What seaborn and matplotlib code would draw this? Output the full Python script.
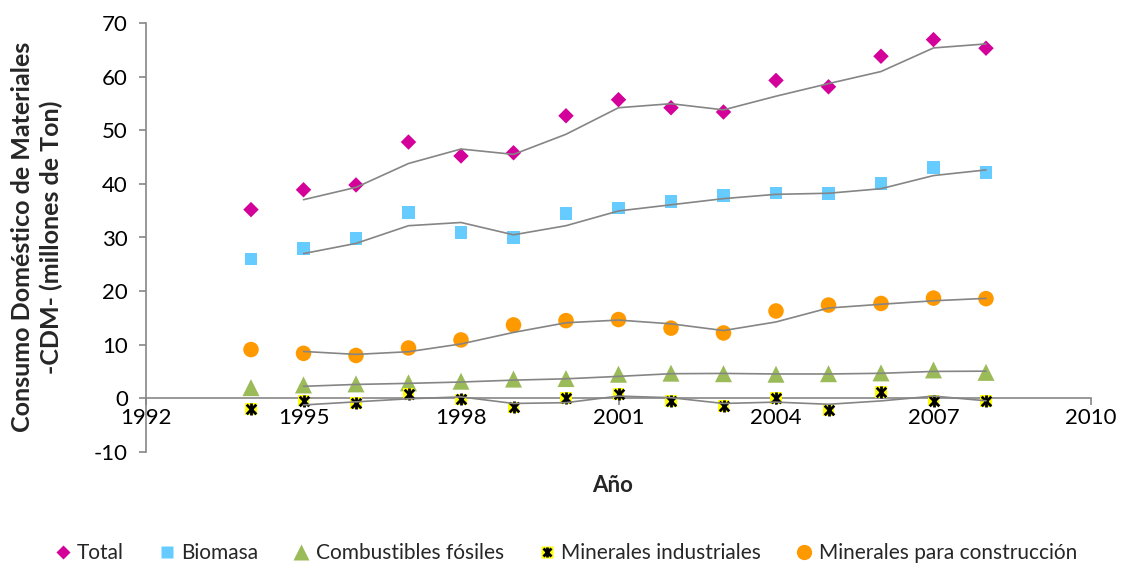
import numpy as np
import pandas as pd
import seaborn as sns
import matplotlib
matplotlib.use("Agg")
import matplotlib.pyplot as plt
from matplotlib.lines import Line2D
from matplotlib.legend_handler import HandlerTuple

# Consumo Doméstico de Materiales por componente (millones de toneladas)
years = list(range(1994, 2009))
total = [35.2, 38.9, 39.8, 47.8, 45.2, 45.8, 52.7, 55.7, 54.2, 53.4, 59.3, 58.1, 63.8, 66.9, 65.3]
biomasa = [26.0, 28.0, 29.8, 34.6, 31.0, 30.0, 34.4, 35.5, 36.7, 37.8, 38.3, 38.2, 40.0, 43.1, 42.1]
combustibles = [2.0, 2.5, 2.7, 2.9, 3.2, 3.6, 3.7, 4.5, 4.7, 4.6, 4.5, 4.6, 4.75, 5.3, 4.85]
industriales = [-2.05, -0.4, -0.9, 0.75, -0.2, -1.7, 0.1, 0.75, -0.5, -1.4, 0.0, -2.2, 1.25, -0.4, -0.5]
construccion = [9.1, 8.4, 8.0, 9.4, 10.9, 13.7, 14.5, 14.7, 13.1, 12.2, 16.3, 17.4, 17.7, 18.7, 18.6]

series_names = ["Total", "Biomasa", "Combustibles fósiles",
                "Minerales industriales", "Minerales para construcción"]
x_ticks = [1992, 1995, 1998, 2001, 2004, 2007, 2010]
y_ticks = [-10, 0, 10, 20, 30, 40, 50, 60, 70]

df = pd.DataFrame({"Año": years, "Total": total, "Biomasa": biomasa,
                   "Combustibles fósiles": combustibles,
                   "Minerales industriales": industriales,
                   "Minerales para construcción": construccion})

sns.set_theme(style="white")
plt.rcParams["font.family"] = ["Lato", "DejaVu Sans"]
plt.rcParams["axes.unicode_minus"] = False

fig = plt.figure(figsize=(11.23, 5.65), dpi=100)
ax = fig.add_axes([146 / 1123, 1 - 452 / 565, (1091 - 146) / 1123, (452 - 23) / 565])

axis_gray = "#868686"
trend_gray = "#858585"

styles = {
    "Total": dict(marker="D", s=62, color="#D4009A"),
    "Biomasa": dict(marker="s", s=86, color="#66CCFF"),
    "Combustibles fósiles": dict(marker="^", s=150, color="#9BBB59"),
    "Minerales para construcción": dict(marker="o", s=125, color="#FF9900"),
}

for name, st in styles.items():
    sns.scatterplot(data=df, x="Año", y=name, marker=st["marker"], s=st["s"],
                    color=st["color"], edgecolor="none", linewidth=0,
                    ax=ax, zorder=3, legend=False)

# Minerales industriales: yellow square with a black star on top
sns.scatterplot(data=df, x="Año", y="Minerales industriales", marker="s", s=72,
                color="#FFFF00", edgecolor="none", linewidth=0, ax=ax, zorder=3, legend=False)
sns.scatterplot(data=df, x="Año", y="Minerales industriales", marker="x", s=48,
                color="black", linewidth=2.0, ax=ax, zorder=4, legend=False)
sns.scatterplot(data=df, x="Año", y="Minerales industriales", marker="|", s=70,
                color="black", linewidth=2.0, ax=ax, zorder=4, legend=False)

# Two-period moving average trendlines
for name in series_names:
    ma = df[["Año", name]].copy()
    ma[name] = ma[name].rolling(2).mean()
    ma = ma.dropna()
    sns.lineplot(data=ma, x="Año", y=name, color=trend_gray, linewidth=1.2,
                 ax=ax, zorder=5, legend=False)

ax.set_xlim(1992, 2010)
ax.set_ylim(-10, 70)
ax.set_xticks(x_ticks)
ax.set_yticks(y_ticks)
ax.set_xlabel("")
ax.set_ylabel("")

for side in ["top", "right"]:
    ax.spines[side].set_visible(False)
ax.spines["bottom"].set_position(("data", 0))
ax.spines["left"].set_position(("data", 1992))
for side in ["bottom", "left"]:
    ax.spines[side].set_color(axis_gray)
    ax.spines[side].set_linewidth(1.2)
    ax.spines[side].set_zorder(2)

ax.tick_params(axis="both", which="major", direction="out", length=5, width=1.2,
               color=axis_gray, labelsize=16, labelcolor="black")
ax.tick_params(axis="x", pad=2, bottom=True)
ax.tick_params(axis="y", pad=8, left=True)
ax.patch.set_alpha(0)

fig.text(37 / 1123, 1 - 237 / 565,
         "Consumo Doméstico de Materiales\n-CDM- (millones de Ton)",
         rotation=90, ha="center", va="center", multialignment="center",
         fontsize=18, fontweight="bold", linespacing=1.3)
fig.text(613 / 1123, 1 - 485 / 565, "Año", ha="center", va="center",
         fontsize=16, fontweight="bold")

h_total = Line2D([], [], marker="D", color="#D4009A", ls="none", ms=7, mec="none")
h_bio = Line2D([], [], marker="s", color="#66CCFF", ls="none", ms=8.5, mec="none")
h_comb = Line2D([], [], marker="^", color="#9BBB59", ls="none", ms=11, mec="none")
h_ind = (Line2D([], [], marker="s", color="#FFFF00", ls="none", ms=8, mec="none"),
         Line2D([], [], marker="x", color="black", ls="none", ms=6, mew=2),
         Line2D([], [], marker="|", color="black", ls="none", ms=7.5, mew=2))
h_cons = Line2D([], [], marker="o", color="#FF9900", ls="none", ms=11, mec="none")

fig.legend([h_total, h_bio, h_comb, h_ind, h_cons], series_names,
           handler_map={tuple: HandlerTuple(ndivide=1, pad=0)},
           loc="center", bbox_to_anchor=(565 / 1123, 1 - 553 / 565),
           ncol=5, frameon=False, fontsize=15, handlelength=0.9,
           handletextpad=0.25, columnspacing=1.6, borderaxespad=0)

fig.savefig("out.png", dpi=100)
